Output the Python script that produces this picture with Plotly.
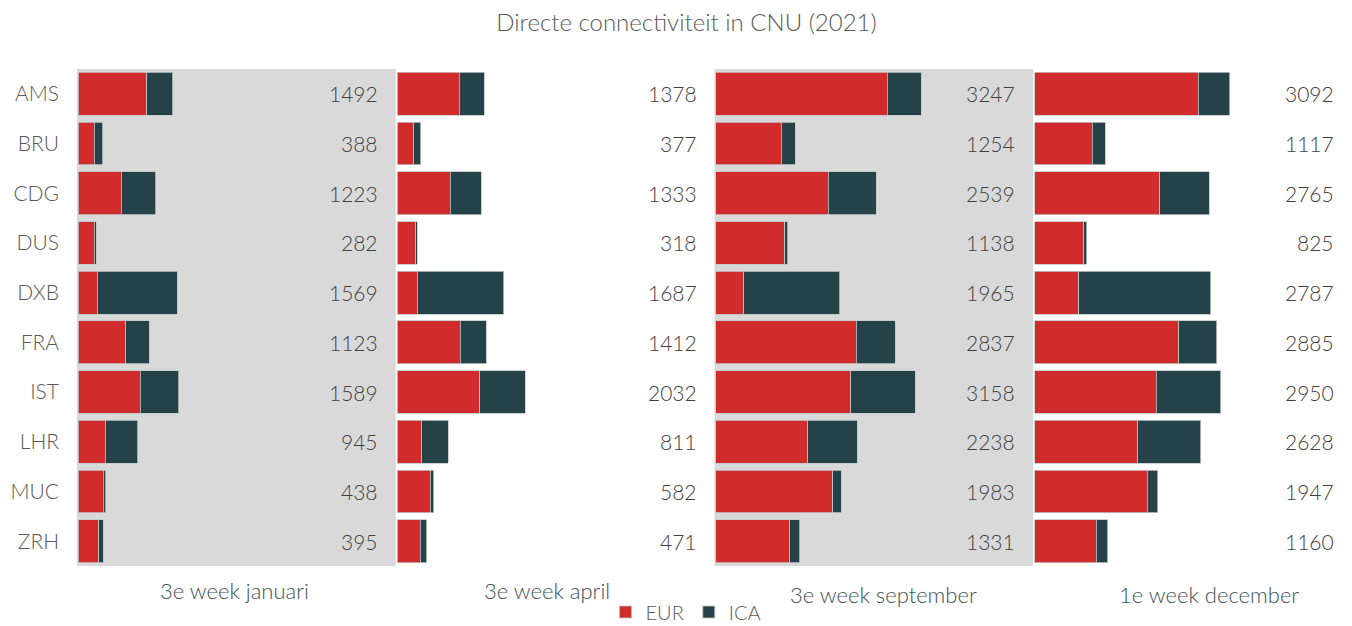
import plotly.graph_objects as go

airports = ["AMS", "BRU", "CDG", "DUS", "DXB", "FRA", "IST", "LHR", "MUC", "ZRH"]
periods = ["3e week januari", "3e week april", "3e week september", "1e week december"]

eur_jan = [1081, 252, 683, 249, 300, 752, 982, 428, 399, 325]
ica_jan = [411, 136, 540, 33, 1269, 371, 607, 517, 39, 70]

eur_apr = [985, 261, 841, 296, 323, 998, 1306, 393, 528, 371]
ica_apr = [393, 116, 492, 22, 1364, 414, 726, 418, 54, 100]

eur_sep = [2713, 1039, 1779, 1095, 446, 2225, 2137, 1458, 1852, 1174]
ica_sep = [534, 215, 760, 43, 1519, 612, 1021, 780, 131, 157]

eur_dec = [2594, 911, 1984, 777, 697, 2278, 1923, 1631, 1780, 977]
ica_dec = [498, 206, 781, 48, 2090, 607, 1027, 997, 167, 183]

eur_all = [eur_jan, eur_apr, eur_sep, eur_dec]
ica_all = [ica_jan, ica_apr, ica_sep, ica_dec]

RED = "#D22B2B"
DARK = "#264249"
GREY_BG = "#D9D9D9"
TEXT = "#595959"
FONT = "Lato, 'Open Sans', sans-serif"

# page body has an 8px margin; compensate so the chart lands where the reference is
OFF = 8
W, H = 1352 - OFF, 626 - OFF
ML, MR, MT = 77 - OFF, 0, 69 - OFF
plot_w = W - ML - MR
plot_h = 497
MB = H - MT - plot_h


def px_x(px):
    return (px - OFF - ML) / plot_w


def px_y(py):
    return ((MT + plot_h) - (py - OFF)) / plot_h


fig = go.Figure()
for i in range(4):
    xa = "x" if i == 0 else f"x{i+1}"
    ya = "y" if i == 0 else f"y{i+1}"
    fig.add_trace(go.Bar(
        y=airports, x=eur_all[i], orientation="h", name="EUR",
        marker=dict(color=RED, line=dict(color="#BFC5C7", width=0.8)),
        xaxis=xa, yaxis=ya, legendgroup="EUR", showlegend=(i == 0),
    ))
    fig.add_trace(go.Bar(
        y=airports, x=ica_all[i], orientation="h", name="ICA",
        marker=dict(color=DARK, line=dict(color="#BFC5C7", width=0.8)),
        xaxis=xa, yaxis=ya, legendgroup="ICA", showlegend=(i == 0),
    ))
    totals = [e + c for e, c in zip(eur_all[i], ica_all[i])]
    for a, t in zip(airports, totals):
        fig.add_annotation(
            x=4770, y=a, xref=xa, yref=ya, text=str(t), showarrow=False,
            xanchor="right", yanchor="middle",
            font=dict(family=FONT, size=21, color="#404040", weight=300),
        )

layout = dict(
    width=W, height=H,
    margin=dict(l=ML, r=MR, t=MT, b=MB, pad=0, autoexpand=False),
    barmode="stack", bargap=0.14,
    paper_bgcolor="white",
    plot_bgcolor="white",
    font=dict(family=FONT, color=TEXT),
    title=dict(text="Directe connectiviteit in CNU (2021)",
               x=(686.5 - OFF) / W, xanchor="center", xref="container",
               y=1 - (23 - OFF) / H, yanchor="middle",
               font=dict(family=FONT, size=24, color=TEXT, weight=300)),
    legend=dict(orientation="h", x=px_x(686), xanchor="center",
                y=px_y(612), yanchor="middle",
                font=dict(family=FONT, size=20, color=TEXT, weight=300),
                itemclick=False, traceorder="normal"),
    showlegend=True,
)

shapes = []
for i in range(4):
    d0 = i / 4.0
    d1 = (i + 1) / 4.0
    xkey = "xaxis" if i == 0 else f"xaxis{i+1}"
    ykey = "yaxis" if i == 0 else f"yaxis{i+1}"
    layout[xkey] = dict(domain=[d0, d1], range=[-20, 5023], showgrid=False,
                        showticklabels=False, zeroline=False, showline=False,
                        anchor="y" if i == 0 else f"y{i+1}")
    layout[ykey] = dict(domain=[0, 1], categoryorder="array", categoryarray=airports,
                        autorange="reversed", showgrid=False, zeroline=False,
                        showline=False, showticklabels=(i == 0),
                        ticklabelstandoff=17,
                        tickfont=dict(family=FONT, size=21, color=TEXT, weight=300),
                        anchor="x" if i == 0 else f"x{i+1}")
    if i in (0, 2):
        shapes.append(dict(type="rect", xref="paper", yref="paper",
                           x0=d0, x1=d1, y0=0, y1=1, fillcolor=GREY_BG,
                           line=dict(width=0), layer="below"))

layout["shapes"] = shapes
fig.update_layout(**layout)

title_x = [234, 547, 883, 1209]
title_y = [590, 590, 594, 594]
for name, tx, ty in zip(periods, title_x, title_y):
    fig.add_annotation(
        x=px_x(tx), y=px_y(ty), xref="paper", yref="paper",
        text=name, showarrow=False, xanchor="center", yanchor="middle",
        font=dict(family=FONT, size=22, color="#3D5158", weight=300),
    )

fig.write_html("out.html")
